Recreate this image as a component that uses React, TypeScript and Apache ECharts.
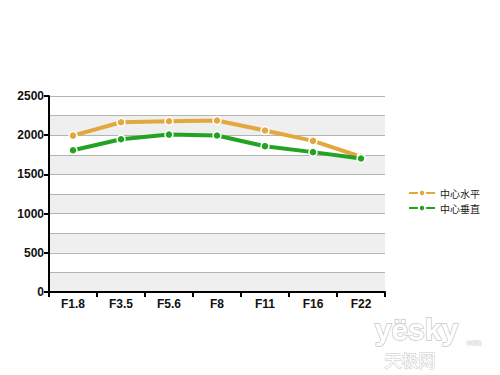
import React, { useEffect, useRef } from "react";
import * as echarts from "echarts";

const categories = ["F1.8", "F3.5", "F5.6", "F8", "F11", "F16", "F22"];
const horizontal = [1995, 2165, 2178, 2188, 2060, 1928, 1725];
const vertical = [1808, 1949, 2008, 1996, 1860, 1784, 1703];
const seriesNames = ["中心水平", "中心垂直"];

export default function App() {
  const ref = useRef<HTMLDivElement>(null);
  useEffect(() => {
    const chart = echarts.init(ref.current!, null, { renderer: "svg" });
    const font = "Arial, 'Liberation Sans', sans-serif";
    chart.setOption({
      animation: false,
      backgroundColor: "#ffffff",
      grid: { left: 49, right: 115, top: 96, bottom: 83 },
      legend: {
        orient: "vertical",
        left: 403,
        top: 183,
        itemGap: 5,
        itemWidth: 26,
        itemHeight: 8,
        textStyle: { fontSize: 10, color: "#222", fontFamily: "'Noto Sans CJK SC', sans-serif" },
        data: seriesNames,
      },
      xAxis: {
        type: "category",
        data: categories,
        boundaryGap: true,
        axisLine: { lineStyle: { color: "#000", width: 2 } },
        axisTick: { show: true, length: 5, lineStyle: { color: "#000", width: 2 } },
        axisLabel: { color: "#111", fontWeight: "bold", fontSize: 12, fontFamily: font, margin: 6 },
        splitLine: { show: false },
      },
      yAxis: [
        {
          type: "value",
          min: 0,
          max: 2500,
          interval: 500,
          axisLine: { show: true, lineStyle: { color: "#000", width: 2 } },
          axisTick: { show: true, length: 5, lineStyle: { color: "#000", width: 2 } },
          axisLabel: {
            color: "#111",
            fontWeight: "bold",
            fontSize: 12,
            fontFamily: font,
            margin: 5,
            formatter: (v: number) => String(v),
          },
          splitLine: { show: false },
          z: 3,
        },
        {
          type: "value",
          min: 0,
          max: 2500,
          interval: 250,
          position: "left",
          axisLine: { show: false },
          axisTick: { show: false },
          axisLabel: { show: false },
          splitLine: { show: true, lineStyle: { color: "#b4b4b4", width: 1 } },
          splitArea: { show: true, areaStyle: { color: ["#efefef", "#ffffff"] } },
          z: 0,
        },
      ],
      series: [
        {
          name: seriesNames[0],
          type: "line",
          data: horizontal,
          yAxisIndex: 0,
          color: "#E2A83E",
          symbol: "circle",
          symbolSize: 8,
          lineStyle: { color: "#E2A83E", width: 4 },
          itemStyle: { color: "#E2A83E", borderColor: "#fff", borderWidth: 1.5 },
          z: 5,
        },
        {
          name: seriesNames[1],
          type: "line",
          data: vertical,
          yAxisIndex: 0,
          color: "#22A322",
          symbol: "circle",
          symbolSize: 8,
          lineStyle: { color: "#22A322", width: 4 },
          itemStyle: { color: "#22A322", borderColor: "#fff", borderWidth: 1.5 },
          z: 6,
        },
      ],
      graphic: [
        {
          type: "text",
          left: 374,
          top: 314,
          style: {
            text: "yësky",
            fontSize: 30,
            fontWeight: "bold",
            fontFamily: font,
            fill: "#ffffff",
            stroke: "#c8c8c8",
            lineWidth: 1.5,
          },
        },
        {
          type: "text",
          left: 466,
          top: 338,
          style: { text: "com", fontSize: 8, fill: "#ffffff", stroke: "#c8c8c8", lineWidth: 0.8, fontFamily: font },
        },
        {
          type: "text",
          left: 384,
          top: 350,
          style: {
            text: "天极网",
            fontSize: 17,
            fontFamily: "'Noto Sans CJK SC', sans-serif",
            fill: "#ffffff",
            stroke: "#c8c8c8",
            lineWidth: 1,
          },
        },
      ],
    });
    return () => chart.dispose();
  }, []);
  return (
    <div
      ref={ref}
      style={{ position: "fixed", left: 0, top: 0, width: 500, height: 375 }}
    />
  );
}
